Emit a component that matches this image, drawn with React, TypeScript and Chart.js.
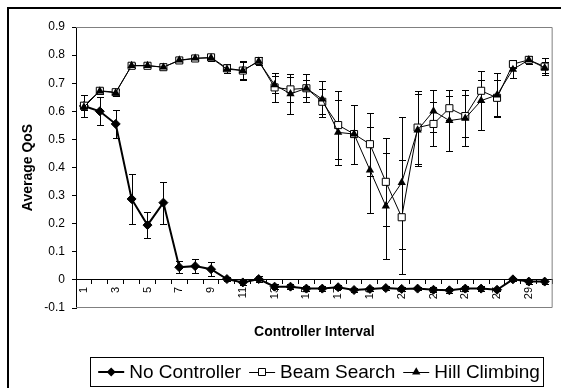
import React, { useEffect, useRef } from "react";
import { Chart, registerables } from "chart.js";

Chart.register(...registerables);

// Controller intervals along the category axis
const intervals = [
  "1", "2", "3", "4", "5", "6", "7", "8", "9", "10",
  "11", "12", "13", "14", "15", "16", "17", "18", "19", "20",
  "21", "22", "23", "24", "25", "26", "27", "28", "29", "30",
];

// Average QoS per interval, with the half-width of each error bar
const noController = [
  0.619, 0.6, 0.555, 0.288, 0.195, 0.275, 0.045, 0.049, 0.038, 0.003,
  -0.009, 0.003, -0.024, -0.024, -0.031, -0.031, -0.026, -0.036, -0.032, -0.029,
  -0.032, -0.031, -0.035, -0.037, -0.031, -0.031, -0.035, 0.002, -0.006, -0.006,
];
const noControllerErr = [
  0.038, 0.05, 0.05, 0.09, 0.045, 0.075, 0.022, 0.025, 0.025, 0.008,
  0.01, 0.012, 0.008, 0.008, 0.008, 0.008, 0.008, 0.006, 0.008, 0.006,
  0.008, 0.006, 0.008, 0.008, 0.008, 0.008, 0.006, 0.005, 0.01, 0.01,
];

const beamSearch = [
  0.62, 0.673, 0.668, 0.762, 0.762, 0.757, 0.781, 0.788, 0.792, 0.753,
  0.745, 0.779, 0.685, 0.678, 0.682, 0.634, 0.551, 0.519, 0.483, 0.349,
  0.223, 0.542, 0.555, 0.611, 0.583, 0.673, 0.648, 0.768, 0.783, 0.759,
];
const beamSearchErr = [
  0.01, 0.01, 0.01, 0.008, 0.008, 0.008, 0.01, 0.008, 0.01, 0.015,
  0.033, 0.015, 0.053, 0.045, 0.05, 0.045, 0.12, 0.105, 0.112, 0.157,
  0.203, 0.13, 0.078, 0.043, 0.075, 0.04, 0.063, 0.015, 0.013, 0.03,
];

const hillClimbing = [
  0.615, 0.672, 0.666, 0.763, 0.763, 0.757, 0.782, 0.789, 0.79, 0.75,
  0.745, 0.778, 0.694, 0.662, 0.682, 0.643, 0.525, 0.519, 0.391, 0.263,
  0.346, 0.533, 0.601, 0.567, 0.575, 0.638, 0.658, 0.749, 0.783, 0.755,
];
const hillClimbingErr = [
  0.01, 0.01, 0.01, 0.008, 0.008, 0.008, 0.01, 0.008, 0.012, 0.012,
  0.03, 0.015, 0.03, 0.07, 0.03, 0.065, 0.115, 0.105, 0.153, 0.19,
  0.235, 0.128, 0.075, 0.11, 0.1, 0.105, 0.078, 0.03, 0.013, 0.02,
];

const seriesNames = ["No Controller", "Beam Search", "Hill Climbing"];
const xTitle = "Controller Interval";
const yTitle = "Average QoS";
const yMin = -0.1;
const yMax = 0.9;
const yStep = 0.1;

const FONT = "'Liberation Sans', Arial, Helvetica, sans-serif";

// Vertical error bars with short caps, drawn beneath the markers
const errorBarsPlugin = {
  id: "errorBars",
  beforeDatasetsDraw(chart: any) {
    const { ctx, scales } = chart;
    const x = scales.x;
    const y = scales.y;
    ctx.save();
    ctx.strokeStyle = "#000";
    ctx.lineWidth = 1;
    chart.data.datasets.forEach((ds: any) => {
      const errs: number[] = ds.errors || [];
      ds.data.forEach((v: number, i: number) => {
        const e = errs[i];
        if (!e) return;
        const px = Math.round(x.getPixelForValue(i)) + 0.5;
        const top = Math.round(y.getPixelForValue(v + e)) + 0.5;
        const bot = Math.round(y.getPixelForValue(v - e)) + 0.5;
        ctx.beginPath();
        ctx.moveTo(px, top);
        ctx.lineTo(px, bot);
        ctx.moveTo(px - 3.5, top);
        ctx.lineTo(px + 3.5, top);
        ctx.moveTo(px - 3.5, bot);
        ctx.lineTo(px + 3.5, bot);
        ctx.stroke();
      });
    });
    ctx.restore();
  },
};

function drawMarker(ctx: CanvasRenderingContext2D, kind: number, cx: number, cy: number) {
  ctx.save();
  ctx.lineWidth = 1;
  ctx.strokeStyle = "#000";
  ctx.beginPath();
  if (kind === 0) {
    const r = 4.5;
    ctx.moveTo(cx, cy - r);
    ctx.lineTo(cx + r, cy);
    ctx.lineTo(cx, cy + r);
    ctx.lineTo(cx - r, cy);
    ctx.closePath();
    ctx.fillStyle = "#000";
    ctx.fill();
  } else if (kind === 1) {
    ctx.rect(Math.round(cx) - 3.5, Math.round(cy) - 3.5, 7, 7);
    ctx.fillStyle = "#fff";
    ctx.fill();
    ctx.stroke();
  } else {
    const r = 4.8;
    ctx.moveTo(cx, cy - r);
    ctx.lineTo(cx + r * 0.866, cy + r * 0.5);
    ctx.lineTo(cx - r * 0.866, cy + r * 0.5);
    ctx.closePath();
    ctx.fillStyle = "#000";
    ctx.fill();
  }
  ctx.restore();
}

// Outer frame, plot border, x-axis title and the boxed legend
const decorPlugin = {
  id: "decor",
  afterDraw(chart: any) {
    const { ctx, chartArea } = chart;
    ctx.save();

    // chart frame
    ctx.strokeStyle = "#000";
    ctx.lineWidth = 2;
    ctx.strokeRect(8, 8, 700, 500);

    // plot area border (top, right, bottom)
    ctx.strokeStyle = "#808080";
    ctx.lineWidth = 1;
    ctx.beginPath();
    ctx.moveTo(chartArea.left, chartArea.top + 0.5);
    ctx.lineTo(chartArea.right - 0.5, chartArea.top + 0.5);
    ctx.lineTo(chartArea.right - 0.5, chartArea.bottom - 0.5);
    ctx.lineTo(chartArea.left, chartArea.bottom - 0.5);
    ctx.stroke();

    // x-axis title
    ctx.fillStyle = "#000";
    ctx.font = `bold 14px ${FONT}`;
    ctx.textAlign = "center";
    ctx.textBaseline = "middle";
    ctx.fillText(xTitle, (chartArea.left + chartArea.right) / 2, 332);

    // legend
    const boxL = 90.5, boxT = 357.5, boxR = 543.5, boxB = 386.5;
    ctx.fillStyle = "#fff";
    ctx.fillRect(boxL, boxT, boxR - boxL, boxB - boxT);
    ctx.strokeStyle = "#000";
    ctx.strokeRect(boxL, boxT, boxR - boxL, boxB - boxT);

    ctx.font = `19px ${FONT}`;
    ctx.textAlign = "left";
    const symW = 26, symGap = 5, itemGap = 8;
    const widths = seriesNames.map((n) => symW + symGap + ctx.measureText(n).width);
    const total = widths.reduce((a, b) => a + b, 0) + itemGap * (seriesNames.length - 1);
    let cx = (boxL + boxR) / 2 + 2 - total / 2;
    const cy = 372;
    seriesNames.forEach((name, k) => {
      ctx.strokeStyle = "#000";
      ctx.lineWidth = k === 0 ? 2 : 1;
      ctx.beginPath();
      ctx.moveTo(cx, cy + (k === 0 ? 0 : 0.5));
      ctx.lineTo(cx + symW, cy + (k === 0 ? 0 : 0.5));
      ctx.stroke();
      drawMarker(ctx, k, cx + symW / 2, cy);
      ctx.fillStyle = "#000";
      ctx.fillText(name, cx + symW + symGap, cy + 1);
      cx += widths[k] + itemGap;
    });

    ctx.restore();
  },
};

export default function App() {
  const canvasRef = useRef<HTMLCanvasElement | null>(null);

  useEffect(() => {
    const canvas = canvasRef.current;
    if (!canvas) return;

    const chart = new Chart(canvas, {
      type: "line",
      data: {
        labels: intervals,
        datasets: [
          {
            label: seriesNames[0],
            data: noController,
            errors: noControllerErr,
            borderColor: "#000",
            backgroundColor: "#000",
            borderWidth: 2,
            pointStyle: "rectRot",
            pointRadius: 4.5,
            pointBorderWidth: 1,
            pointBackgroundColor: "#000",
            pointBorderColor: "#000",
            tension: 0,
            order: 2,
          } as any,
          {
            label: seriesNames[1],
            data: beamSearch,
            errors: beamSearchErr,
            borderColor: "#000",
            backgroundColor: "#fff",
            borderWidth: 1,
            pointStyle: "rect",
            pointRadius: 5,
            pointBorderWidth: 1,
            pointBackgroundColor: "#fff",
            pointBorderColor: "#000",
            tension: 0,
            order: 1,
          } as any,
          {
            label: seriesNames[2],
            data: hillClimbing,
            errors: hillClimbingErr,
            borderColor: "#000",
            backgroundColor: "#000",
            borderWidth: 1,
            pointStyle: "triangle",
            pointRadius: 4.8,
            pointBorderWidth: 0,
            pointBackgroundColor: "#000",
            pointBorderColor: "#000",
            tension: 0,
            order: 0,
          } as any,
        ],
      },
      options: {
        responsive: false,
        animation: false,
        events: [],
        layout: { padding: { left: 0, top: 27, right: 2, bottom: 80 } },
        plugins: {
          legend: { display: false },
          tooltip: { enabled: false },
          title: { display: false },
        },
        scales: {
          x: {
            type: "category",
            position: { y: 0 } as any,
            offset: true,
            grid: {
              display: true,
              drawOnChartArea: false,
              drawTicks: true,
              tickLength: 4,
              color: "#000",
              offset: true,
            },
            border: { display: true, color: "#000", width: 1 },
            ticks: {
              autoSkip: false,
              minRotation: 90,
              maxRotation: 90,
              padding: 3,
              color: "#000",
              font: { family: FONT, size: 11 },
              callback: (_v: any, i: number) => (i % 2 === 0 ? intervals[i] : ""),
            },
          },
          y: {
            type: "linear",
            position: "left",
            min: yMin,
            max: yMax,
            afterFit: (scale: any) => {
              scale.width = 76;
            },
            grid: {
              display: true,
              drawOnChartArea: false,
              drawTicks: true,
              tickLength: 4,
              color: "#000",
            },
            border: { display: true, color: "#000", width: 1 },
            ticks: {
              stepSize: yStep,
              padding: 7,
              color: "#000",
              font: { family: FONT, size: 12 },
            },
            title: {
              display: true,
              text: yTitle,
              color: "#000",
              font: { family: FONT, size: 14, weight: "bold" },
              padding: { top: 20, bottom: 0 },
            },
          },
        },
      },
      plugins: [errorBarsPlugin, decorPlugin],
    });

    return () => chart.destroy();
  }, []);

  return (
    <div style={{ position: "absolute", left: 0, top: 0, width: 561, height: 388, background: "#fff" }}>
      <canvas ref={canvasRef} width={561} height={388} />
    </div>
  );
}
